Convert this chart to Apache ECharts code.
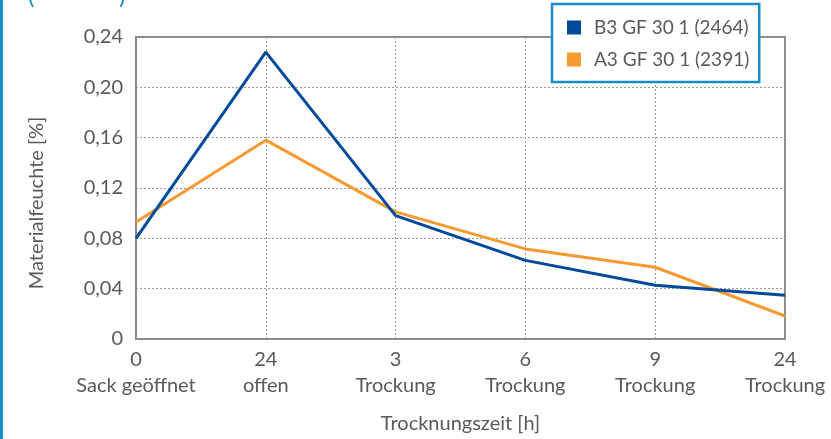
<!DOCTYPE html>
<html>
<head>
<meta charset="utf-8">
<script src="https://cdn.jsdelivr.net/npm/echarts@6/dist/echarts.min.js"></script>
<style>
html,body{margin:0;padding:0;background:#fff;}
#c{width:831px;height:439px;}
</style>
</head>
<body>
<div id="c"></div>
<script>
const hours = ['0', '24', '3', '6', '9', '24'];
const phases = ['Sack geöffnet', 'offen', 'Trockung', 'Trockung', 'Trockung', 'Trockung'];
const seriesB3Name = 'B3 GF 30 1 (2464)';
const seriesA3Name = 'A3 GF 30 1 (2391)';
const seriesB3 = [0.080, 0.228, 0.098, 0.0625, 0.0427, 0.0348];
const seriesA3 = [0.093, 0.158, 0.101, 0.0716, 0.057, 0.0183];
const yTicks = [0, 0.04, 0.08, 0.12, 0.16, 0.20, 0.24];

const categories = hours.map((h, i) => h + '\n' + phases[i]);
const FONT = 'Lato';
const GREY = '#595959';
const chart = echarts.init(document.getElementById('c'));
chart.setOption({
  animation: false,
  textStyle: {fontFamily: FONT},
  grid: {left: 136, right: 46, top: 37, bottom: 99, show: true, borderColor: '#8a8a8a', borderWidth: 2, containLabel: false},
  legend: {
    orient: 'vertical', left: 552, top: 4,
    width: 207,
    backgroundColor: '#fff', borderColor: '#1a8ac6', borderWidth: 2.5, borderRadius: 0,
    padding: [14, 10, 13, 15],
    itemGap: 13, itemWidth: 14, itemHeight: 14, icon: 'rect',
    textStyle: {fontFamily: FONT, fontSize: 19, color: GREY, padding: [0, 0, 0, 8]},
    data: [seriesB3Name, seriesA3Name]
  },
  xAxis: {
    type: 'category', boundaryGap: false, data: categories,
    axisLine: {show: true, lineStyle: {color: '#8a8a8a', width: 2}},
    axisTick: {show: false},
    splitLine: {show: true, lineStyle: {color: '#9a9a9a', type: [2, 2], width: 1}},
    axisLabel: {fontFamily: FONT, fontSize: 20, color: GREY, lineHeight: 26, margin: 8, interval: 0},
    name: 'Trocknungszeit [h]', nameLocation: 'middle', nameGap: 75,
    nameTextStyle: {fontFamily: FONT, fontSize: 20, color: GREY}
  },
  yAxis: {
    type: 'value', min: yTicks[0], max: yTicks[yTicks.length - 1], interval: yTicks[1] - yTicks[0],
    axisLine: {show: true, lineStyle: {color: '#8a8a8a', width: 2}},
    axisTick: {show: false},
    splitLine: {show: true, lineStyle: {color: '#9a9a9a', type: [2, 2], width: 1}},
    axisLabel: {fontFamily: FONT, fontSize: 20, color: GREY, margin: 13,
      formatter: v => v === 0 ? '0' : v.toFixed(2).replace('.', ',')}
  },
  graphic: [
    {type: 'line', shape: {x1: 1.5, y1: 0, x2: 1.5, y2: 439}, style: {stroke: '#1a8ac6', lineWidth: 3}, z: 10},
    {type: 'text', left: 28, top: -16, style: {text: '(', fontSize: 24, fontFamily: FONT, fill: '#1a8ac6'}},
    {type: 'text', left: 119, top: -16, style: {text: ')', fontSize: 24, fontFamily: FONT, fill: '#1a8ac6'}},
    {type: 'text', x: 37, y: 203, rotation: Math.PI / 2,
      style: {text: 'Materialfeuchte [%]', fontFamily: FONT, fontSize: 20, fill: GREY, align: 'center', verticalAlign: 'middle'}}
  ],
  series: [
    {name: seriesB3Name, type: 'line', data: seriesB3, symbol: 'none', lineStyle: {color: '#004a9c', width: 3}, itemStyle: {color: '#004a9c'}, z: 3},
    {name: seriesA3Name, type: 'line', data: seriesA3, symbol: 'none', lineStyle: {color: '#f59a31', width: 3}, itemStyle: {color: '#f59a31'}, z: 2}
  ]
});
</script>
</body>
</html>
